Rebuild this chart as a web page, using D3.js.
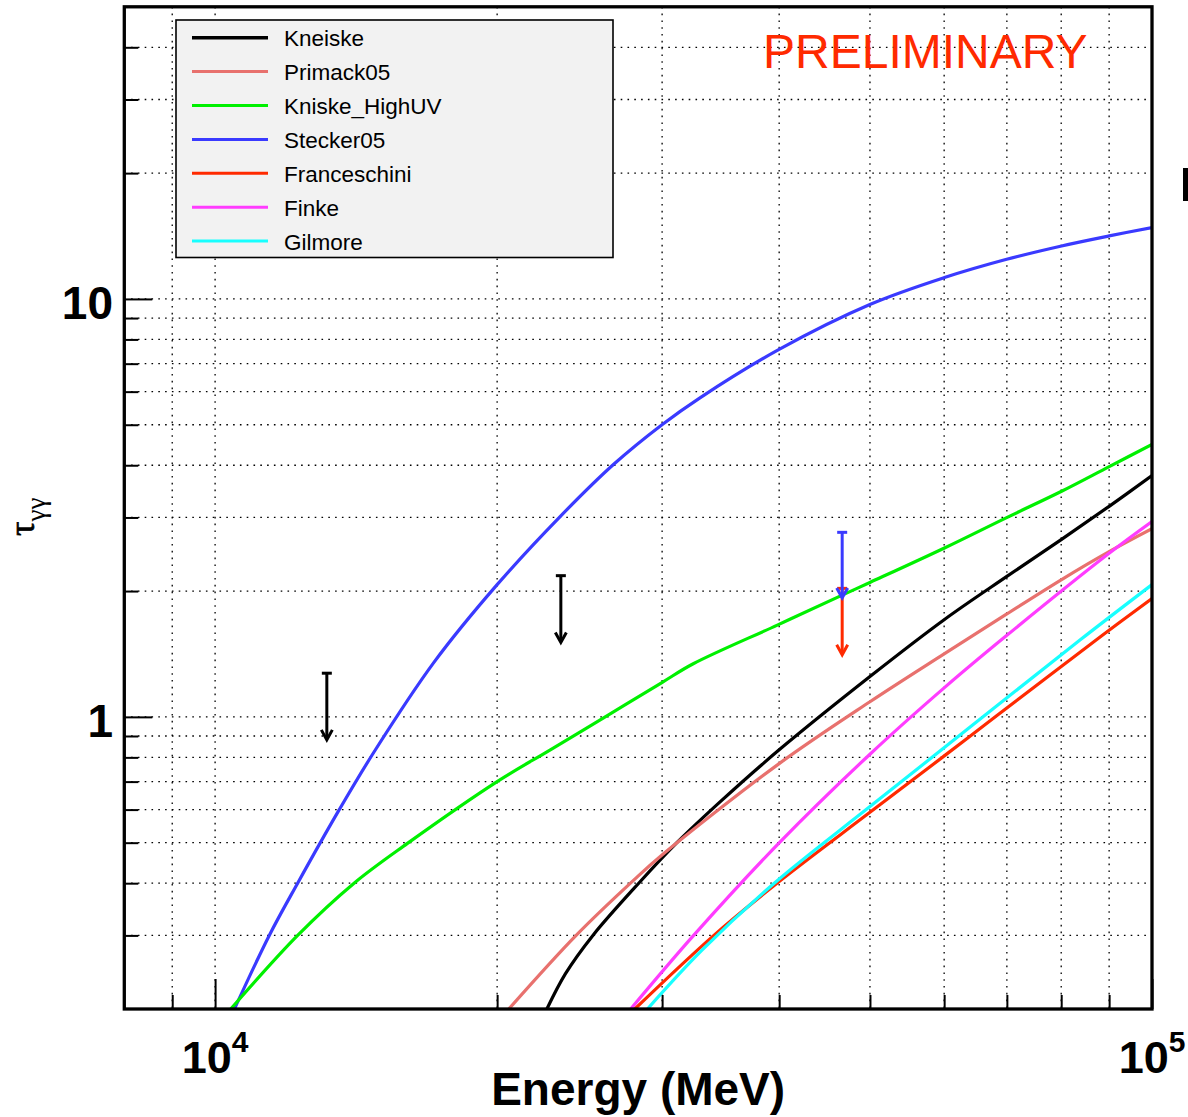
<!DOCTYPE html>
<html><head><meta charset="utf-8">
<script src="https://cdn.jsdelivr.net/npm/d3@7"></script>
<style>body{margin:0;background:#fff}svg{display:block}</style>
</head><body><svg id="c" width="1188" height="1117"></svg>
<script>
// ---------------- data (Energy in MeV, tau_gamma_gamma) ----------------
const seriesNames = ["Kneiske","Primack05","Kniske_HighUV","Stecker05","Franceschini","Finke","Gilmore"];
const kneiske = [[22600,0.2],[23659,0.243],[25306,0.300],[28355,0.401],[31109,0.500],[34590,0.626],[40000,0.834],[50000,1.249],[60000,1.708],[70000,2.168],[80000,2.655],[90000,3.190],[100000,3.779]];
const primack05 = [[20583,0.2],[24285,0.300],[28054,0.409],[29992,0.467],[40000,0.773],[50000,1.087],[60000,1.415],[70000,1.763],[80000,2.128],[90000,2.485],[100000,2.820]];
const kniskeHighUV = [[10392,0.2],[12249,0.300],[14071,0.400],[16043,0.498],[20000,0.700],[22794,0.834],[26193,1.006],[30016,1.210],[32386,1.340],[39820,1.658],[46700,1.956],[50058,2.100],[60048,2.536],[69966,2.998],[80076,3.466],[90018,3.97],[100000,4.484]];
const stecker05 = [[10486,0.2],[11424,0.300],[12249,0.400],[13564,0.599],[14778,0.824],[17122,1.350],[20000,2.072],[23363,3.019],[26617,4.016],[30016,5.008],[32925,5.80],[39994,7.573],[50058,9.71],[60048,11.25],[69966,12.44],[80076,13.39],[90018,14.15],[100000,14.82]];
const franceschini = [[28054,0.2],[33952,0.298],[39846,0.401],[50000,0.591],[60215,0.811],[68152,1.003],[88236,1.559],[100000,1.920]];
const finke = [[27771,0.2],[32415,0.300],[40000,0.4995],[50000,0.814],[60000,1.173],[69581,1.550],[90000,2.463],[100000,2.934]];
const gilmore = [[28938,0.2],[33087,0.2765],[39574,0.401],[50000,0.610],[64055,0.948],[83780,1.527],[100000,2.072]];
const seriesData = [kneiske, primack05, kniskeHighUV, stecker05, franceschini, finke, gilmore];

// upper limits
const limitEnergy = [13160, 23390, 46700, 46700];
const limitTop    = [1.272, 2.177, 2.03, 2.764];
const limitTip    = [0.881, 1.507, 1.408, 1.925];

// ticks
const xMajorTicks = [1e4, 1e5];
const xMinorTicks = [9000, 2e4, 3e4, 4e4, 5e4, 6e4, 7e4, 8e4, 9e4];
const xTickLabels = [["10","4"],["10","5"]];
const yMajorTicks = [1, 10];
const yMinorTicks = [0.3,0.4,0.5,0.6,0.7,0.8,0.9,2,3,4,5,6,7,8,9,20,30,40];
const yTickLabels = ["1","10"];

// ---------------- styles ----------------
const seriesColors = ["#000000","#e8716e","#00f000","#3a3aff","#ff2a00","#ff3cff","#18ffff"];
const limitColors = ["#000000","#000000","#ff2a00","#3a3aff"];
const SANS = "'Liberation Sans', Arial, Helvetica, sans-serif";

const svg = d3.select("#c");
const L = 124.3, R = 1152, T = 6.8, B = 1009;
const x = d3.scaleLog().domain([8000, 1e5]).range([L, R]);
const y = d3.scaleLog().domain([0.2, 50]).range([B, T]);

// grid
const grid = svg.append("g").attr("stroke","#000").attr("stroke-width",1.3).attr("stroke-dasharray","1.6 5.2");
grid.selectAll("line.v").data(xMinorTicks.concat([1e4])).join("line").attr("class","v")
  .attr("x1",d=>x(d)).attr("x2",d=>x(d)).attr("y1",T).attr("y2",B);
grid.selectAll("line.h").data(yMinorTicks.concat(yMajorTicks)).join("line").attr("class","h")
  .attr("x1",L).attr("x2",R).attr("y1",d=>y(d)).attr("y2",d=>y(d));

// clip
svg.append("defs").append("clipPath").attr("id","pc").append("rect")
  .attr("x",L).attr("y",T).attr("width",R-L).attr("height",B-T);

const line = d3.line().x(d=>x(d[0])).y(d=>y(d[1])).curve(d3.curveCatmullRom.alpha(0.5));
const drawOrder = [3,2,0,1,5,4,6];
svg.append("g").attr("clip-path","url(#pc)").selectAll("path")
  .data(drawOrder).join("path")
  .attr("d",i=>line(seriesData[i]))
  .attr("fill","none").attr("stroke",i=>seriesColors[i]).attr("stroke-width",3.2)
  .attr("stroke-linejoin","round");

// upper limit arrows
const lim = svg.append("g").selectAll("g").data(limitEnergy.map((e,i)=>i)).join("g")
  .attr("stroke",i=>limitColors[i]).attr("stroke-width",3).attr("fill","none");
lim.append("line").attr("x1",i=>x(limitEnergy[i])).attr("x2",i=>x(limitEnergy[i]))
  .attr("y1",i=>y(limitTop[i])).attr("y2",i=>y(limitTip[i])-1);
lim.append("line").attr("x1",i=>x(limitEnergy[i])-5).attr("x2",i=>x(limitEnergy[i])+5)
  .attr("y1",i=>y(limitTop[i])).attr("y2",i=>y(limitTop[i]));
lim.append("path").attr("d",i=>{const cx=x(limitEnergy[i]), ty=y(limitTip[i]);
  return `M${cx-5.5},${ty-10}L${cx},${ty}L${cx+5.5},${ty-10}`;})
  .attr("stroke-linejoin","miter");

// axes ticks
const gx1 = svg.append("g").attr("transform",`translate(0,${B})`)
  .call(d3.axisBottom(x).tickValues(xMajorTicks).tickSize(-30).tickFormat(""));
const gx2 = svg.append("g").attr("transform",`translate(0,${B})`)
  .call(d3.axisBottom(x).tickValues(xMinorTicks).tickSize(-14).tickFormat(""));
const gy1 = svg.append("g").attr("transform",`translate(${L},0)`)
  .call(d3.axisLeft(y).tickValues(yMajorTicks).tickSize(-28).tickFormat(""));
const gy2 = svg.append("g").attr("transform",`translate(${L},0)`)
  .call(d3.axisLeft(y).tickValues(yMinorTicks).tickSize(-14).tickFormat(""));
[gx1,gx2,gy1,gy2].forEach(g=>{g.select(".domain").remove(); g.selectAll(".tick line").attr("stroke","#000").attr("stroke-width",2);});

// frame
svg.append("rect").attr("x",L).attr("y",T).attr("width",R-L).attr("height",B-T)
  .attr("fill","none").attr("stroke","#000").attr("stroke-width",3.3);

// tick labels
svg.append("g").selectAll("text").data(yMajorTicks).join("text")
  .attr("x",113).attr("y",d=>y(d)+20).attr("text-anchor","end")
  .attr("font-family",SANS).attr("font-weight","bold").attr("font-size",46)
  .text((d,i)=>yTickLabels[i]);
const xl = svg.append("g").selectAll("text").data(xMajorTicks).join("text")
  .attr("x",d=>x(d)).attr("y",1073).attr("text-anchor","middle")
  .attr("font-family",SANS).attr("font-weight","bold").attr("font-size",45);
xl.append("tspan").text((d,i)=>xTickLabels[i][0]);
xl.append("tspan").attr("dy",-21).attr("font-size",30).text((d,i)=>xTickLabels[i][1]);

// axis titles
svg.append("text").attr("x",(L+R)/2).attr("y",1105).attr("text-anchor","middle")
  .attr("font-family",SANS).attr("font-weight","bold").attr("font-size",46)
  .text("Energy (MeV)");
const yt = svg.append("text").attr("transform","translate(34,536) rotate(-90)")
  .attr("font-family","'Liberation Serif', 'DejaVu Serif', serif");
yt.append("tspan").attr("font-size",36).attr("stroke","#000").attr("stroke-width",0.7).text("τ");
yt.append("tspan").attr("font-size",27).attr("dy",11).text("γγ");

// preliminary
svg.append("text").attr("x",763).attr("y",68).attr("font-family",SANS).attr("font-size",48)
  .attr("fill","#ff2a00").text("PRELIMINARY");

// legend
const lg = svg.append("g");
lg.append("rect").attr("x",176).attr("y",20).attr("width",437).attr("height",237.5)
  .attr("fill","#f2f2f2").attr("stroke","#000").attr("stroke-width",1.6);
const le = lg.selectAll("g.e").data(seriesNames).join("g").attr("class","e")
  .attr("transform",(d,i)=>`translate(0,${37.7 + i*33.9})`);
le.append("line").attr("x1",192).attr("x2",268).attr("y1",0).attr("y2",0)
  .attr("stroke",(d,i)=>seriesColors[i]).attr("stroke-width",(d,i)=>i===0?3.6:3);
le.append("text").attr("x",284).attr("y",8.6).attr("font-family",SANS).attr("font-size",22.5)
  .attr("fill","#000").text(d=>d);

// clipped glyph fragment at right edge
svg.append("rect").attr("x",1183).attr("y",168).attr("width",5).attr("height",33).attr("fill","#000");
</script></body></html>
